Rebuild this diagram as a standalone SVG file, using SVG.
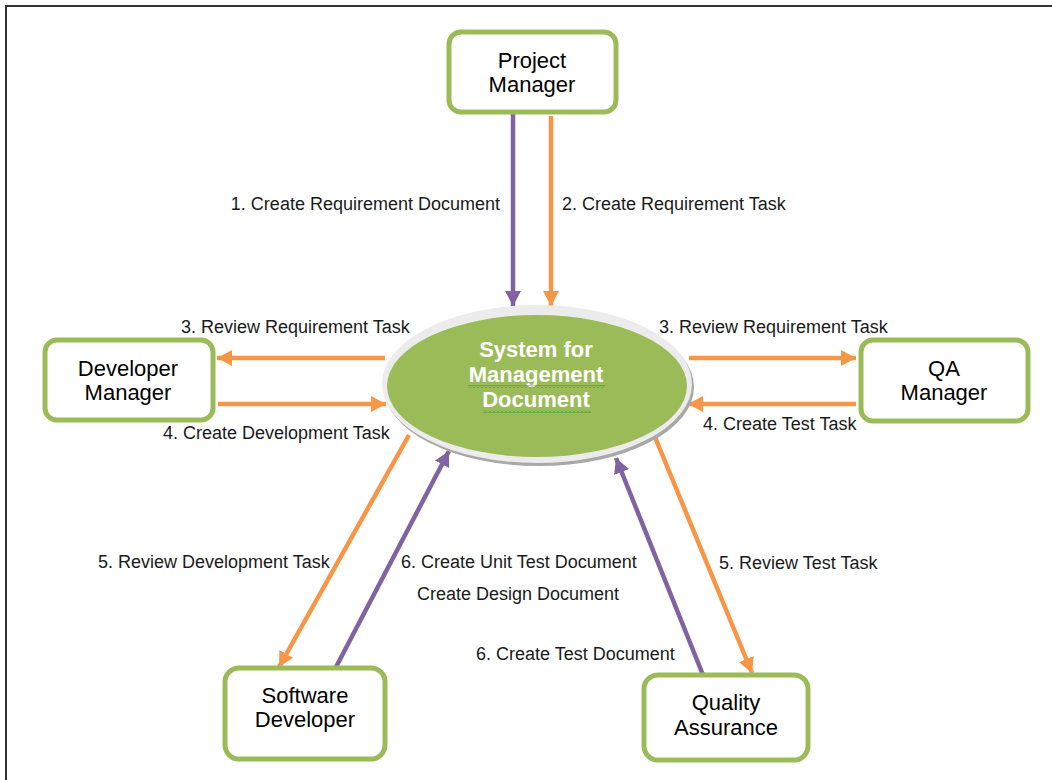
<svg xmlns="http://www.w3.org/2000/svg" width="1052" height="780" viewBox="0 0 1052 780">
  <style>
    .box { fill: #ffffff; stroke: #9BBB59; stroke-width: 5; }
    .boxshadow { fill: none; stroke: #8fae4e; stroke-width: 5; }
    .node { font-family: "Liberation Sans", Arial, sans-serif; font-size: 22px; fill: #000000; text-anchor: middle; }
    .center { font-family: "Liberation Sans", Arial, sans-serif; font-size: 22px; font-weight: bold; fill: #ffffff; text-anchor: middle; }
    .lbl { font-family: "Liberation Sans", Arial, sans-serif; font-size: 18px; fill: #1a1a1a; }
    .p { stroke: #8064A2; stroke-width: 4.5; fill: none; marker-end: url(#ap); }
    .o { stroke: #F79646; stroke-width: 4.5; fill: none; marker-end: url(#ao); }
  </style>
  <defs>
    <marker id="ap" markerUnits="userSpaceOnUse" markerWidth="16" markerHeight="16" refX="15" refY="8" orient="auto">
      <path d="M0,0 L15,8 L0,16 z" fill="#8064A2"/>
    </marker>
    <marker id="ao" markerUnits="userSpaceOnUse" markerWidth="16" markerHeight="16" refX="15" refY="8" orient="auto">
      <path d="M0,0 L15,8 L0,16 z" fill="#F79646"/>
    </marker>
    <pattern id="squiggle" patternUnits="userSpaceOnUse" width="4" height="3" x="0" y="0">
      <path d="M0,2.5 L2,0.5 L4,2.5" fill="none" stroke="#2e9e2e" stroke-width="0.9"/>
    </pattern>
  </defs>

  <rect width="1052" height="780" fill="#ffffff"/>
  <path d="M6,780 V6 H1052" fill="none" stroke="#333333" stroke-width="2"/>

  <g id="connectors">
    <line class="p" x1="513" y1="114" x2="513" y2="306"/>
    <line class="o" x1="551" y1="116" x2="551" y2="306"/>
    <line class="o" x1="385" y1="358" x2="217" y2="358"/>
    <line class="o" x1="218" y1="404" x2="386" y2="404"/>
    <line class="o" x1="689" y1="358" x2="856" y2="358"/>
    <line class="o" x1="856" y1="404" x2="688" y2="404"/>
    <line class="o" x1="409" y1="435" x2="279" y2="667"/>
    <line class="p" x1="336" y1="667" x2="449" y2="451"/>
    <line class="p" x1="703" y1="675" x2="616" y2="458"/>
    <line class="o" x1="655" y1="437" x2="752" y2="673"/>

    <text class="lbl" x="500" y="210" text-anchor="end">1. Create Requirement Document</text>
    <text class="lbl" x="562" y="210">2. Create Requirement Task</text>
    <text class="lbl" x="181" y="333">3. Review Requirement Task</text>
    <text class="lbl" x="163" y="439">4. Create Development Task</text>
    <text class="lbl" x="659" y="333">3. Review Requirement Task</text>
    <text class="lbl" x="703" y="430">4. Create Test Task</text>
    <text class="lbl" x="98" y="568">5. Review Development Task</text>
    <text class="lbl" x="401" y="568">6. Create Unit Test Document</text>
    <text class="lbl" x="417" y="600">Create Design Document</text>
    <text class="lbl" x="476" y="660">6. Create Test Document</text>
    <text class="lbl" x="719" y="569">5. Review Test Task</text>
  </g>

  <g id="system">
    <ellipse cx="539" cy="387" rx="155" ry="79" fill="#a8a8a8"/>
    <ellipse cx="537" cy="384" rx="155" ry="79" fill="#ececec"/>
    <ellipse cx="537" cy="386" rx="150" ry="71" fill="#9BBB59"/>
    <text class="center" x="536" y="357">System for</text>
    <text class="center" x="536" y="382">Management</text>
    <text class="center" x="536" y="407">Document</text>
    <rect x="468" y="385" width="137" height="3" fill="url(#squiggle)"/>
    <rect x="483" y="410" width="108" height="3" fill="url(#squiggle)"/>
  </g>

  <g id="project-manager">
    <rect class="box" x="449" y="32" width="167" height="80" rx="12"/>
    <text class="node" x="532" y="68">Project</text>
    <text class="node" x="532" y="92">Manager</text>
  </g>

  <g id="developer-manager">
    <rect class="box" x="45" y="340" width="168" height="80" rx="12"/>
    <text class="node" x="128" y="376">Developer</text>
    <text class="node" x="128" y="400">Manager</text>
  </g>

  <g id="qa-manager">
    <rect class="box" x="861" y="340" width="167" height="81" rx="12"/>
    <text class="node" x="944" y="376">QA</text>
    <text class="node" x="944" y="400">Manager</text>
  </g>

  <g id="software-developer">
    <rect class="box" x="225" y="668" width="160" height="91" rx="14"/>
    <text class="node" x="305" y="703">Software</text>
    <text class="node" x="305" y="727">Developer</text>
  </g>

  <g id="quality-assurance">
    <rect class="box" x="644" y="675" width="164" height="85" rx="14"/>
    <text class="node" x="726" y="710">Quality</text>
    <text class="node" x="726" y="735">Assurance</text>
  </g>
</svg>
